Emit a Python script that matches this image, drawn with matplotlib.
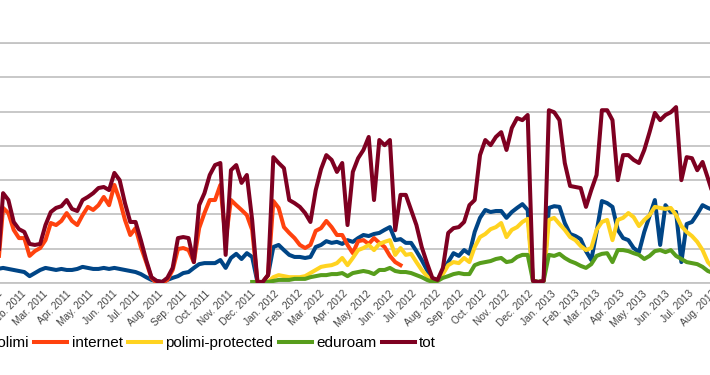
import matplotlib
matplotlib.use('Agg')
import matplotlib.pyplot as plt
import matplotlib.transforms as mtransforms
import numpy as np
import pandas as pd

plt.rcParams['font.family'] = ['Liberation Sans', 'DejaVu Sans']

# weekly samples
weeks = pd.date_range('2011-01-10', periods=137, freq='7D')

polimi = [32, 41, 44, 41, 38, 35, 32, 20, 29, 38,
          44, 41, 38, 41, 38, 38, 41, 47, 44, 41,
          41, 44, 41, 44, 41, 38, 35, 32, 26, 17,
          9, 6, 3, 9, 15, 20, 29, 32, 44, 55,
          58, 58, 58, 67, 44, 73, 85, 70, 87, 76,
          3, 3, 23, 105, 111, 96, 82, 76, 76, 73,
          76, 105, 111, 122, 117, 120, 114, 125, 120, 131,
          140, 137, 143, 146, 155, 163, 125, 128, 117, 117,
          93, 67, 38, 6, 9, 35, 61, 87, 79, 96,
          85, 149, 190, 213, 207, 210, 210, 190, 207, 219,
          230, 213, 6, 3, 6, 219, 224, 222, 175, 143,
          137, 128, 93, 67, 149, 239, 233, 222, 155, 131,
          125, 102, 90, 149, 195, 242, 111, 227, 207, 207,
          61, 172, 178, 201, 227, 219, 213]

internet = [23, 38, 219, 204, 155, 131, 131, 79, 93, 102,
            125, 175, 169, 181, 204, 181, 169, 198, 222, 213,
            227, 251, 227, 286, 242, 184, 140, 160, 105, 61,
            15, 0, 0, 9, 38, 99, 102, 96, 61, 160,
            204, 242, 242, 286, 125, 242, 227, 213, 198, 155,
            3, 3, 23, 239, 219, 163, 146, 131, 111, 102,
            111, 152, 160, 181, 163, 140, 140, 111, 87, 122,
            125, 114, 131, 117, 105, 79, 61, 52] + [None] * 59

polimi_protected = [None] * 52 + [
    3, 17, 23, 20, 17, 17, 17, 20,
    29, 38, 47, 50, 52, 58, 73, 52, 73, 96,
    102, 111, 96, 114, 120, 125, 82, 102, 82, 85,
    61, 38, 20, 6, 12, 26, 52, 61, 58, 73,
    61, 105, 134, 143, 157, 163, 175, 134, 155, 163,
    178, 187, 6, 3, 6, 184, 190, 172, 155, 134,
    125, 108, 96, 102, 155, 178, 184, 125, 184, 190,
    204, 192, 166, 184, 198, 222, 219, 216, 219, 198,
    166, 149, 137, 120, 96, 61, 44]

eduroam = [None] * 49 + [
    3,
    3, 3, 3, 6, 9, 9, 9, 12, 12, 12,
    17, 20, 23, 23, 26, 26, 29, 20, 29, 32,
    35, 32, 26, 38, 38, 44, 35, 32, 32, 29,
    23, 17, 9, 3, 6, 15, 20, 26, 29, 26,
    26, 52, 58, 61, 64, 70, 73, 61, 64, 76,
    82, 82, 6, 3, 6, 82, 79, 85, 73, 64,
    58, 50, 44, 55, 79, 85, 87, 61, 96, 96,
    93, 87, 82, 70, 79, 93, 96, 90, 96, 79,
    70, 61, 58, 55, 47, 35, 29]

tot = [32, 52, 262, 242, 178, 157, 149, 114, 111, 114,
       169, 207, 219, 224, 242, 216, 210, 242, 251, 262,
       277, 280, 271, 321, 300, 233, 178, 178, 125, 67,
       17, 6, 3, 15, 44, 131, 134, 131, 61, 227,
       262, 315, 344, 350, 82, 329, 344, 292, 315, 184,
       3, 3, 23, 367, 350, 335, 242, 233, 222, 204,
       178, 271, 332, 373, 359, 324, 350, 169, 324, 364,
       388, 426, 242, 417, 402, 417, 154, 257, 257, 213,
       169, 105, 58, 15, 9, 44, 146, 160, 163, 178,
       227, 242, 373, 417, 402, 426, 440, 388, 452, 481,
       475, 490, 6, 3, 6, 504, 498, 475, 350, 283,
       280, 277, 222, 271, 315, 504, 504, 475, 300, 373,
       373, 359, 350, 388, 440, 496, 475, 490, 498, 513,
       300, 367, 364, 329, 353, 306, 257]

names = ['polimi', 'internet', 'polimi-protected', 'eduroam', 'tot']
colors = ['#004586', '#ff420e', '#ffd320', '#579d1c', '#7e0021']
series = [polimi, internet, polimi_protected, eduroam, tot]

fig = plt.figure(figsize=(7.1, 3.75), dpi=100)
# the chart is cropped on the left, so the axes start a bit outside the figure
ax = fig.add_axes([-20 / 710, 92 / 375, 730 / 710, 240 / 375])

for name, vals, c in zip(names, series, colors):
    ax.plot(weeks, np.array(vals, dtype=float), color=c, lw=2.9,
            label=name, zorder=3, solid_joinstyle='round')

ax.set_ylim(0, 700)
ax.set_yticks(range(0, 701, 100))
ax.yaxis.grid(True, color='#c4c4c4', lw=1.3)
ax.set_xlim(pd.Timestamp('2010-12-24 12:00'), pd.Timestamp('2013-08-14 20:00'))
for side in ['left', 'right']:
    ax.spines[side].set_visible(False)
for side in ['top', 'bottom']:
    ax.spines[side].set_color('#c4c4c4')
    ax.spines[side].set_linewidth(1.3)
ax.tick_params(left=False, labelleft=False, length=0, pad=4)

months = pd.date_range('2011-01-01', '2013-08-01', freq='MS')
ax.set_xticks(months)
ax.set_xticklabels([m.strftime('%b. %Y') for m in months], rotation=45,
                   ha='right', va='top', rotation_mode='anchor',
                   fontsize=7.3, color='#444444')
shift = mtransforms.ScaledTranslation(0.12, 0, fig.dpi_scale_trans)
for lbl in ax.get_xticklabels():
    lbl.set_transform(lbl.get_transform() + shift)

handles, labels = ax.get_legend_handles_labels()
fig.legend(handles, labels, loc='center left',
           bbox_to_anchor=(-48 / 710, 1 - 343 / 375), ncol=5, frameon=False,
           fontsize=11, handlelength=2.15, handletextpad=0.3,
           columnspacing=0.35, borderpad=0, borderaxespad=0)

fig.savefig('out.png', dpi=100)
